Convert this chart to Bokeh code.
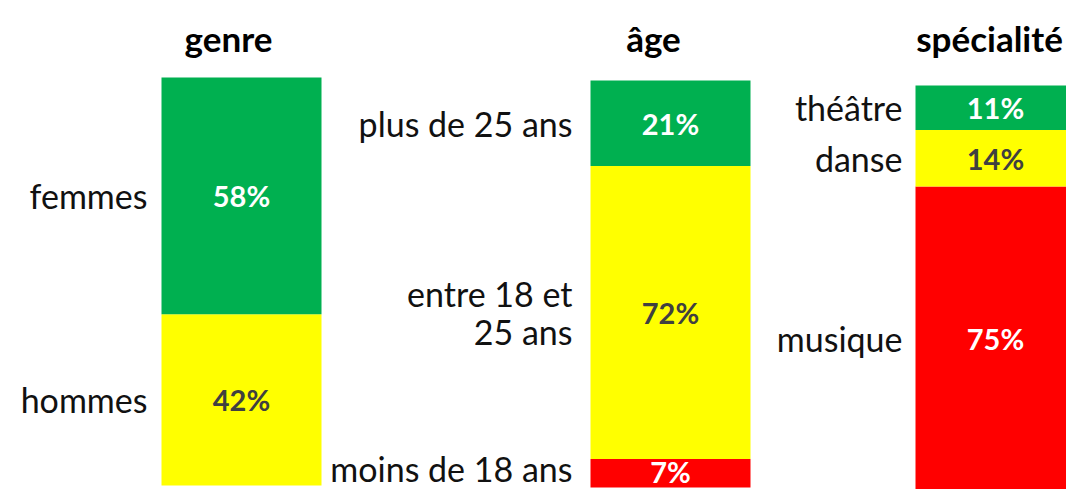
from bokeh.plotting import figure
from bokeh.layouts import row
from bokeh.models import Range1d, ColumnDataSource
from bokeh.core.properties import value
from bokeh.embed import file_html
from bokeh.resources import INLINE

# ---------------- data ----------------
titles = ["genre", "âge", "spécialité"]

genre_labels = ["hommes", "femmes"]                       # bottom -> top
genre_values = [42, 58]

age_labels = ["moins de 18 ans", "entre 18 et\n25 ans", "plus de 25 ans"]
age_values = [7, 72, 21]

spec_labels = ["musique", "danse", "théâtre"]
spec_values = [75, 14, 11]

# ---------------- styles ----------------
GREEN, YELLOW, RED = "#00B050", "#FFFF00", "#FF0000"
genre_colors = [YELLOW, GREEN]
age_colors = [RED, YELLOW, GREEN]
spec_colors = [RED, YELLOW, GREEN]

FONT = value("Lato")
H = 489
BAR_W = 160
LABEL_SIZE = 34
PCT_SIZE = 29

# per panel layout: fig width, bar left (local px), bar top/bottom (px), title centre (local px), label gap
layouts = [
    dict(w=324, bar_left=161, top=77, bottom=485, title_x=228, gap=14),
    dict(w=436, bar_left=266, top=80, bottom=487, title_x=329, gap=18),
    dict(w=306, bar_left=155, top=85, bottom=489, title_x=229, gap=13),
]
panels = [
    (titles[0], genre_labels, genre_values, genre_colors),
    (titles[1], age_labels, age_values, age_colors),
    (titles[2], spec_labels, spec_values, spec_colors),
]


def make_panel(title, labels, values, colors, lay):
    s = (lay["bottom"] - lay["top"]) / 100.0
    y_end = 100 + lay["top"] / s
    y_start = -(H - lay["bottom"]) / s
    p = figure(width=lay["w"], height=H, output_backend="svg", toolbar_location=None,
               x_range=Range1d(0, lay["w"]), y_range=Range1d(y_start, y_end),
               min_border=0, outline_line_color=None)
    p.axis.visible = False
    p.grid.visible = False
    p.background_fill_color = "white"
    p.border_fill_color = "white"

    bottoms, tops, mids = [], [], []
    acc = 0
    for v in values:
        bottoms.append(acc)
        tops.append(acc + v)
        mids.append(acc + v / 2)
        acc += v
    # keep texts near the bottom edge inside the canvas (screen px offsets, + = down)
    mid_px = [lay["top"] + (100 - m) * s for m in mids]
    lab_off = [min(0, (H - 21) - m) for m in mid_px]
    pct_off = [min(0, (H - 18) - m) for m in mid_px]
    xc = lay["bar_left"] + BAR_W / 2
    src = ColumnDataSource(dict(
        x=[xc] * len(values), bottom=bottoms, top=tops, mid=mids, color=colors,
        pct=[f"{v}%" for v in values],
        tcolor=["#404040" if c == YELLOW else "white" for c in colors],
        label=labels, lx=[lay["bar_left"] - lay["gap"]] * len(values),
        lab_off=lab_off, pct_off=pct_off,
    ))
    p.vbar(x="x", width=BAR_W, bottom="bottom", top="top", fill_color="color",
           line_color=None, source=src)
    p.text(x="x", y="mid", text="pct", text_color="tcolor", text_font=FONT,
           text_font_style="bold", text_font_size=f"{PCT_SIZE}px", text_align="center",
           text_baseline="middle", y_offset="pct_off", source=src)
    p.text(x="lx", y="mid", text="label", text_color="#111111", text_font=FONT,
           text_font_size=f"{LABEL_SIZE}px", text_align="right", text_baseline="middle",
           text_line_height=0.95, y_offset="lab_off", source=src)
    ty = 100 + (lay["top"] - 37) / s
    p.text(x=[lay["title_x"]], y=[ty], text=[title], text_color="#000000", text_font=FONT,
           text_font_style="bold", text_font_size="35px", text_align="center",
           text_baseline="alphabetic")
    return p


figs = [make_panel(*pn, lay) for pn, lay in zip(panels, layouts)]
layout = row(*figs, spacing=0)
open("out.html", "w").write(file_html(layout, INLINE))
